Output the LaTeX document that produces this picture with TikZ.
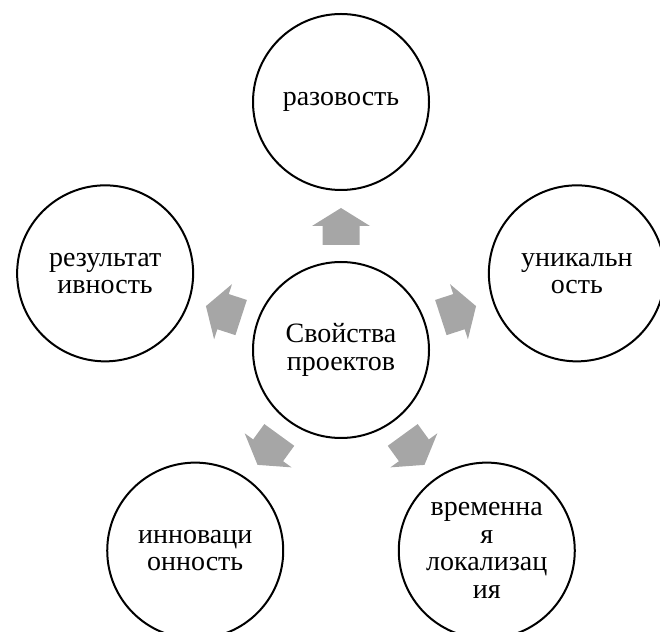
\documentclass[tikz,border=0pt]{standalone}
\usepackage{fontspec}
\setmainfont{Liberation Serif}
\usetikzlibrary{calc}
\definecolor{arrowgray}{HTML}{A6A6A6}
\begin{document}
\begin{tikzpicture}[x=1pt,y=1pt,
  ring/.style={circle, draw=black, line width=2pt, fill=white, minimum size=176pt, inner sep=0pt, align=center, font=\fontsize{28}{27.5}\selectfont},
  blockarrow/.style={fill=arrowgray}]
\useasboundingbox (0,0) rectangle (660,631);
\node[ring] (c) at (341,281) {Свойства\\проектов};
\node[ring] (top) at ($(c)+(90:248)$) {разовость};
\node[ring] (right) at ($(c)+(18:248)$) {уникальн\\ость};
\node[ring] (bright) at ($(c)+(306:248)$) {временна\\я\\локализац\\ия};
\node[ring] (bleft) at ($(c)+(234:248)$) {инноваци\\онность};
\node[ring] (left) at ($(c)+(162:248)$) {результат\\ивность};
\foreach \a in {90,162,234,306,18}
  \fill[blockarrow, shift={(c.center)}, rotate=\a-90]
    (-18.5,105) -- (-18.5,124) -- (-29,124) -- (0,142) -- (29,124) -- (18.5,124) -- (18.5,105) -- cycle;
\end{tikzpicture}
\end{document}
